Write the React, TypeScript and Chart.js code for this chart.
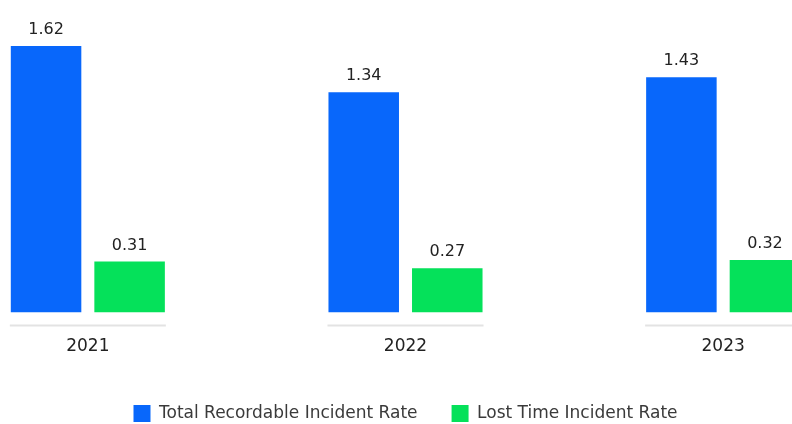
import React, { useEffect, useRef } from "react";
import { Chart, registerables } from "chart.js";

Chart.register(...registerables);

const years = ["2021", "2022", "2023"];
const trir = [1.62, 1.34, 1.43];
const ltir = [0.31, 0.27, 0.32];
const seriesNames = ["Total Recordable Incident Rate", "Lost Time Incident Rate"];

const BLUE = "#0867FB";
const GREEN = "#05E15A";
const FONT = "'DejaVu Sans', sans-serif";

const valueLabels = {
  id: "valueLabels",
  afterDatasetsDraw(chart: any) {
    const ctx = chart.ctx;
    ctx.save();
    ctx.font = `400 16px ${FONT}`;
    ctx.fillStyle = "#222";
    ctx.textAlign = "center";
    ctx.textBaseline = "bottom";
    chart.data.datasets.forEach((ds: any, di: number) => {
      const meta = chart.getDatasetMeta(di);
      meta.data.forEach((el: any, i: number) => {
        ctx.fillText(Number(ds.data[i]).toFixed(2), el.x, el.y - 8);
      });
    });
    ctx.restore();
  },
};

const groupLines = {
  id: "groupLines",
  afterDatasetsDraw(chart: any) {
    const ctx = chart.ctx;
    const m0 = chart.getDatasetMeta(0);
    const m1 = chart.getDatasetMeta(1);
    const y = chart.chartArea.bottom + 13;
    ctx.save();
    ctx.strokeStyle = "#e3e3e3";
    ctx.lineWidth = 2;
    m0.data.forEach((b0: any, i: number) => {
      const b1 = m1.data[i];
      ctx.beginPath();
      ctx.moveTo(b0.x - b0.width / 2 - 1, y);
      ctx.lineTo(b1.x + b1.width / 2 + 1, y);
      ctx.stroke();
    });
    ctx.restore();
  },
};

export default function App() {
  const ref = useRef<HTMLCanvasElement>(null);
  useEffect(() => {
    if (!ref.current) return;
    const chart = new Chart(ref.current, {
      type: "bar",
      data: {
        labels: years,
        datasets: [
          {
            label: seriesNames[0],
            data: trir,
            backgroundColor: BLUE,
            categoryPercentage: 0.526,
            barPercentage: 0.844,
          },
          {
            label: seriesNames[1],
            data: ltir,
            backgroundColor: GREEN,
            categoryPercentage: 0.526,
            barPercentage: 0.844,
          },
        ],
      },
      options: {
        responsive: false,
        animation: false,
        layout: { padding: 0 },
        plugins: {
          tooltip: { enabled: false },
          legend: {
            position: "bottom",
            labels: {
              boxWidth: 17,
              boxHeight: 17,
              padding: 34,
              color: "#3a3a3a",
              font: { family: FONT, size: 17 },
            },
          },
        },
        scales: {
          x: {
            grid: { display: false, drawTicks: false },
            border: { display: false },
            ticks: {
              padding: 24,
              color: "#222",
              font: { family: FONT, size: 17 },
            },
            afterFit(scale: any) {
              scale.height -= 10;
            },
          },
          y: {
            display: false,
            min: 0,
            max: 1.9,
          },
        },
      },
      plugins: [groupLines, valueLabels],
    });
    return () => chart.destroy();
  }, []);
  return (
    <div style={{ position: "fixed", left: 0, top: 0, width: 792, height: 424, overflow: "hidden", background: "#fff" }}>
      <canvas
        ref={ref}
        width={953}
        height={432}
        style={{ position: "absolute", left: -71, top: 0, width: 953, height: 432 }}
      />
    </div>
  );
}
